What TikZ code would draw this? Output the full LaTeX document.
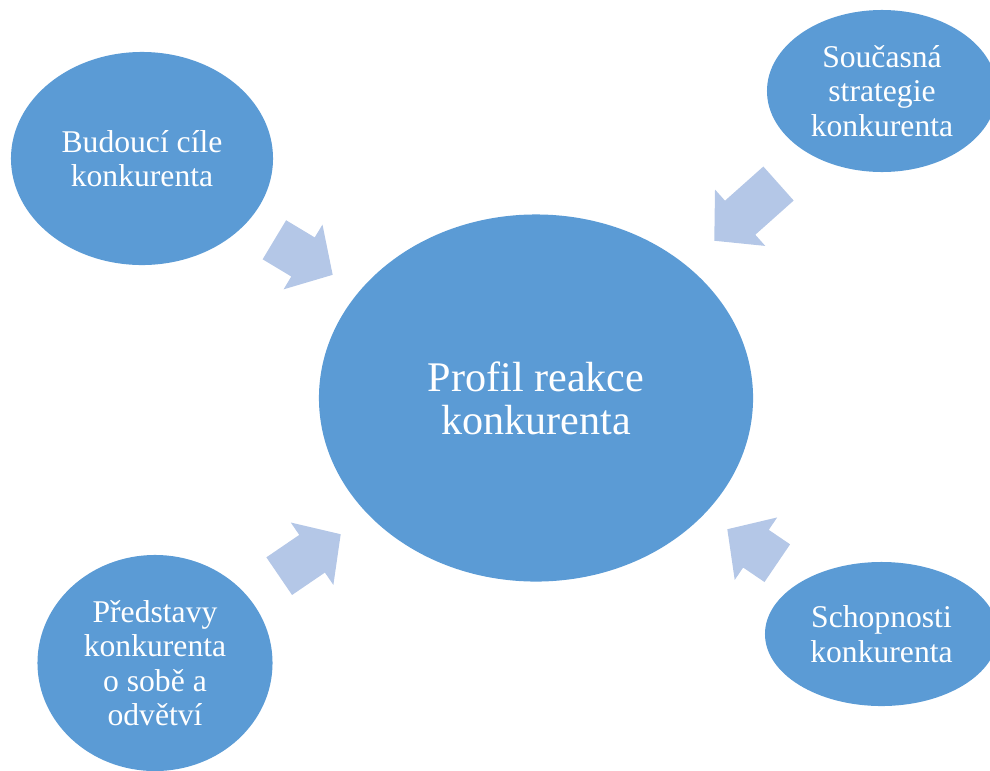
\documentclass[tikz,border=0pt]{standalone}
\usepackage{fontspec}
\setmainfont{Liberation Serif}
\usetikzlibrary{shapes.geometric,shapes.arrows}
\definecolor{bubblefill}{HTML}{5B9BD5}
\definecolor{pushfill}{HTML}{B4C7E7}
\begin{document}
\begin{tikzpicture}[x=0.025cm, y=-0.025cm,
    bubble/.style={ellipse, fill=bubblefill, text=white, inner sep=0pt, align=center,
      font=\fontsize{22.5}{24.5}\selectfont},
    push/.style={single arrow, fill=pushfill, anchor=tip, inner xsep=0pt, inner ysep=0.5625cm,
      single arrow head extend=0.375cm, minimum width=0pt, single arrow tip angle=95}]
  \clip (0,0) rectangle (990,770);
  % the five ellipses
  \node[bubble, minimum width=10.85cm, minimum height=9.175cm,
    font=\fontsize{30}{30.5}\selectfont] (profil) at (536,398) {Profil reakce\\konkurenta};
  \node[bubble, minimum width=6.55cm, minimum height=5.325cm] (cile) at (142,158.5) {Budoucí cíle\\konkurenta};
  \node[bubble, minimum width=5.75cm, minimum height=4.05cm] (strategie) at (882,91) {Současná\\strategie\\konkurenta};
  \node[bubble, minimum width=5.875cm, minimum height=5.4cm] (predstavy) at (155,663) {Představy\\konkurenta\\o sobě a\\odvětví};
  \node[bubble, minimum width=5.825cm, minimum height=3.6cm] (schopnosti) at (881.5,634) {Schopnosti\\konkurenta};
  % block arrows towards the centre
  \node[push, minimum height=1.7cm, rotate=-31] (p1) at (333,275) {};
  \node[push, minimum height=2.15cm, rotate=-138.3] (p2) at (714,241) {};
  \node[push, minimum height=1.86cm, rotate=34.3] (p3) at (341,534) {};
  \node[push, minimum height=1.51cm, rotate=145.8] (p4) at (727,529) {};
\end{tikzpicture}
\end{document}
